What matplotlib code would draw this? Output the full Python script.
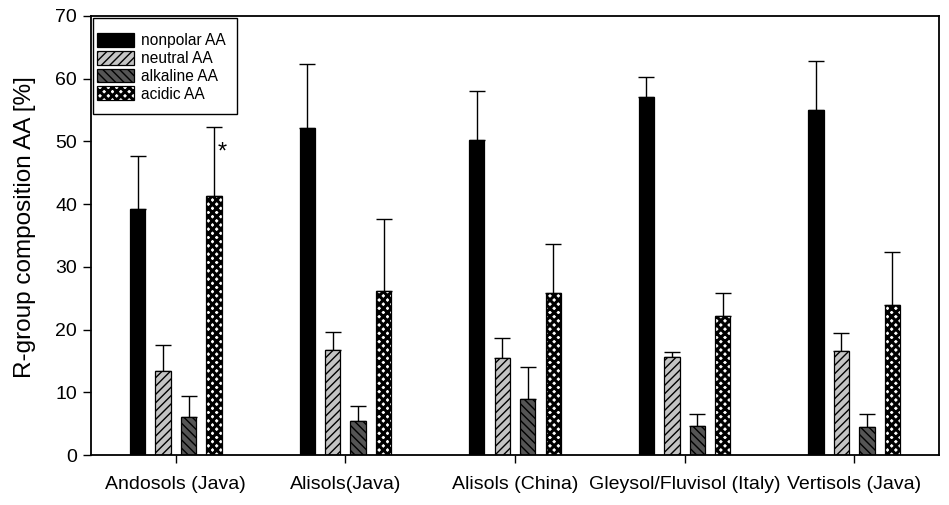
import matplotlib
matplotlib.use("Agg")
import matplotlib.pyplot as plt
from matplotlib.patches import Rectangle
import numpy as np

plt.rcParams['font.family'] = ['Liberation Sans', 'DejaVu Sans']

categories = ["Andosols (Java)", "Alisols(Java)", "Alisols (China)",
              "Gleysol/Fluvisol (Italy)", "Vertisols (Java)"]
series = ["nonpolar AA", "neutral AA", "alkaline AA", "acidic AA"]
nonpolar = [39.3, 52.1, 50.2, 57.1, 55.0]
nonpolar_err = [8.4, 10.2, 7.9, 3.1, 7.9]
neutral = [13.4, 16.7, 15.5, 15.6, 16.6]
neutral_err = [4.1, 2.9, 3.1, 0.9, 2.9]
alkaline = [6.1, 5.4, 8.9, 4.7, 4.5]
alkaline_err = [3.3, 2.4, 5.2, 1.9, 2.1]
acidic = [41.3, 26.1, 25.8, 22.2, 23.9]
acidic_err = [11.0, 11.5, 7.9, 3.6, 8.5]

values = [nonpolar, neutral, alkaline, acidic]
errors = [nonpolar_err, neutral_err, alkaline_err, acidic_err]
faces = ['black', '#c4c4c4', '#555555', 'white']
hatches = [None, '////', '\\\\\\\\', 'xxxx']
hatch_lw = [1.0, 1.0, 1.0, 2.2]


def set_hlw(patch, lw):
    if hasattr(patch, 'set_hatch_linewidth'):
        patch.set_hatch_linewidth(lw)
    else:
        patch._hatch_linewidth = lw


fig = plt.figure(figsize=(9.49, 5.05), dpi=100)
ax = fig.add_axes([91/949, 1-455/505, (939-91)/949, (455-16)/505])

x = np.arange(1, len(categories) + 1)
offsets = [-0.225, -0.075, 0.075, 0.225]
width = 0.09
for v, e, fc, h, hl, off, lab in zip(values, errors, faces, hatches, hatch_lw, offsets, series):
    bars = ax.bar(x + off, v, width, color=fc, edgecolor='black', linewidth=0.9,
                  hatch=h, label=lab, zorder=2)
    for b in bars:
        set_hlw(b, hl)
    ax.errorbar(x + off, v, yerr=[np.zeros(len(v)), e], fmt='none',
                ecolor='black', elinewidth=1.0, capsize=5.5, capthick=1.0, zorder=1)

ax.text(1.272, 48.3, '*', ha='center', va='center', fontsize=17)

ax.set_xlim(0.5, 5.5)
ax.set_ylim(0, 70)
ax.set_yticks(range(0, 71, 10))
ax.set_xticks(x)
ax.set_xticklabels(categories, fontsize=14)
ax.tick_params(axis='y', labelsize=14, direction='out', length=6, width=1, pad=4)
ax.tick_params(axis='x', direction='out', length=6, width=1, pad=9)
ax.set_ylabel('R-group composition AA [%]', fontsize=17.5)
ax.yaxis.set_label_coords(-55/848, 0.52)
for s in ax.spines.values():
    s.set_linewidth(1.3)

# legend box
ax.add_patch(Rectangle(((93-91)/848, (455-114)/439), (237-93)/848, (114-18)/439,
                       transform=ax.transAxes, facecolor='white', edgecolor='black',
                       linewidth=1.0, zorder=3))
leg = ax.legend(loc='upper left', bbox_to_anchor=((97-91)/848, 1-(33-16)/439),
                fontsize=11.2, frameon=False, borderaxespad=0, borderpad=0,
                handlelength=2.35, handleheight=1.0, labelspacing=0.16,
                handletextpad=0.5)
leg.set_zorder(4)
for p, hl in zip(leg.get_patches(), hatch_lw):
    set_hlw(p, hl)

fig.savefig('out.png', dpi=100)
